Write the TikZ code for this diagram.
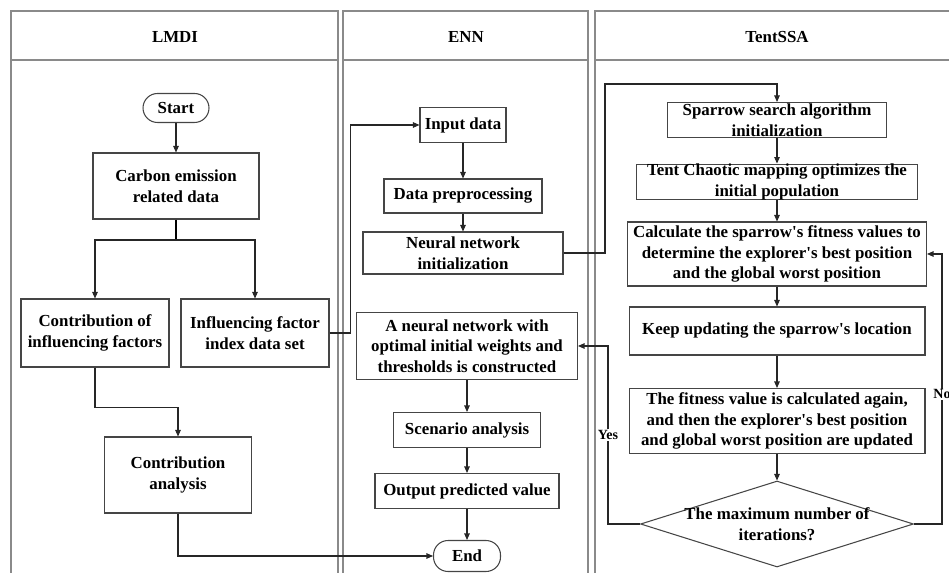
\documentclass[tikz,border=0pt]{standalone}
\usepackage{fontspec}
\setmainfont{Liberation Serif}
\usetikzlibrary{arrows.meta,shapes.geometric}
\definecolor{lanegray}{HTML}{8A8A8A}
\definecolor{boxgray}{HTML}{454545}
\newcommand{\apos}{\textquotesingle}

\begin{document}
\begin{tikzpicture}[x=0.02cm, y=-0.02cm, line width=0.6pt, >={Triangle[length=1.3mm, width=1.1mm]},
  font=\fontsize{9.6}{11.7}\selectfont\bfseries,
  lane/.style={draw=lanegray, line width=0.8pt},
  proc/.style={draw=boxgray, rectangle, align=center, inner sep=1pt},
  term/.style={draw=boxgray, rectangle, rounded corners=0.29cm, align=center, inner sep=1pt},
  decide/.style={draw=boxgray, diamond, inner sep=0pt, minimum width=5.46cm, minimum height=1.72cm},
  flow/.style={->, draw=black!85},
  lbl/.style={fill=white, inner sep=0.5pt, font=\fontsize{8}{9}\selectfont\bfseries}]
  \clip (0,0) rectangle (949,573);
  % swim lanes with headers
  \draw[lane] (11,11) rectangle (338,600);
  \draw[lane] (11,60) -- (338,60);
  \draw[lane] (343,11) rectangle (588,600);
  \draw[lane] (343,60) -- (588,60);
  \draw[lane] (595,11) rectangle (962,600);
  \draw[lane] (595,60) -- (962,60);
  \node (lmdihead) at (175,37) {LMDI};
  \node (ennhead) at (466,37) {ENN};
  \node (ssahead) at (777,37) {TentSSA};

  % LMDI lane
  \node[term, minimum width=1.32cm, minimum height=0.58cm] (start) at (176,108) {Start};
  \node[proc, minimum width=3.32cm, minimum height=1.32cm] (carbon) at (176,186) {Carbon emission\\related data};
  \node[proc, minimum width=2.96cm, minimum height=1.36cm] (contrib) at (95,333) {Contribution of\\influencing factors};
  \node[proc, minimum width=2.96cm, minimum height=1.36cm] (indexset) at (255,333) {Influencing factor\\index data set};
  \node[proc, minimum width=2.94cm, minimum height=1.52cm] (analysis) at (178,475) {Contribution\\analysis};

  % ENN lane
  \node[proc, minimum width=1.72cm, minimum height=0.70cm] (input) at (463,125) {Input data};
  \node[proc, minimum width=3.16cm, minimum height=0.68cm] (prep) at (463,196) {Data preprocessing};
  \node[proc, minimum width=4.00cm, minimum height=0.84cm] (nninit) at (463,253) {Neural network\\initialization};
  \node[proc, minimum width=4.42cm, minimum height=1.34cm] (nnopt) at (467,346) {A neural network with\\optimal initial weights and\\thresholds is constructed};
  \node[proc, minimum width=2.94cm, minimum height=0.70cm] (scenario) at (467,430) {Scenario analysis};
  \node[proc, minimum width=3.68cm, minimum height=0.70cm] (output) at (467,491) {Output predicted value};
  \node[term, minimum width=1.34cm, minimum height=0.62cm] (end) at (467,556) {End};

  % TentSSA lane
  \node[proc, inner ysep=0pt, minimum width=4.38cm, minimum height=0.70cm] (ssa) at (777,120) {Sparrow search algorithm\\initialization};
  \node[proc, inner ysep=0pt, minimum width=5.62cm, minimum height=0.68cm] (tent) at (777,182) {Tent Chaotic mapping optimizes the\\initial population};
  \node[proc, minimum width=5.98cm, minimum height=1.28cm] (calc) at (777,254) {Calculate the sparrow\apos s fitness values to\\determine the explorer\apos s best position\\and the global worst position};
  \node[proc, minimum width=5.92cm, minimum height=0.96cm] (keep) at (777,331) {Keep updating the sparrow\apos s location};
  \node[proc, minimum width=5.92cm, minimum height=1.30cm] (fitness) at (777,421) {The fitness value is calculated again,\\and then the explorer\apos s best position\\and global worst position are updated};
  \node[decide] (maxiter) at (777,524) {};
  \node[align=center] (maxtxt) at (maxiter.center) {The maximum number of\\iterations?};

  % connectors
  \coordinate (fork) at (176,240);
  \coordinate (ssaturn) at (605,84);
  \draw[flow] (start) -- (carbon);
  \draw (carbon) -- (fork);
  \draw[flow] (fork) -| (contrib.north);
  \draw[flow] (fork) -| (indexset.north);
  \draw[flow] (contrib.south) -- ++(0,40) -| (analysis.north);
  \draw[flow] (analysis.south) |- (end.west);
  \draw[flow] (indexset.east) -- ++(21,0) |- (input.west);
  \draw[flow] (input) -- (prep);
  \draw[flow] (prep) -- (nninit);
  \draw[flow] (nninit.east) -| (ssaturn) -| (ssa.north);
  \draw[flow] (nnopt) -- (scenario);
  \draw[flow] (scenario) -- (output);
  \draw[flow] (output) -- (end);
  \draw[flow] (ssa) -- (tent);
  \draw[flow] (tent) -- (calc);
  \draw[flow] (calc) -- (keep);
  \draw[flow] (keep) -- (fitness);
  \draw[flow] (fitness) -- (maxiter);
  \draw[flow] (maxiter.east) -- ++(28,0) |- node[lbl, pos=0.24] (nolbl) {No} (calc.east);
  \draw[flow] (maxiter.west) -- ++(-32,0) |- node[lbl, pos=0.25] (yeslbl) {Yes} (nnopt.east);
\end{tikzpicture}
\end{document}
